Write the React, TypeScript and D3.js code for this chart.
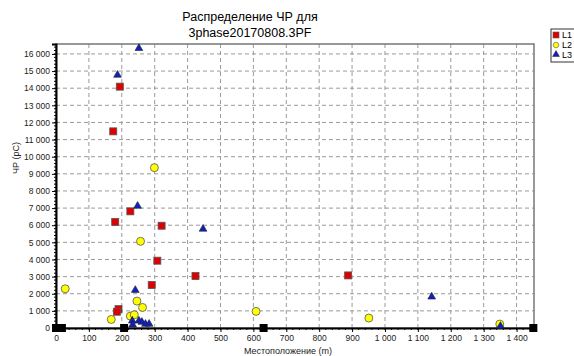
import React, { useEffect, useRef } from "react";
import * as d3 from "d3";

// L1 (red squares): location (m), PD (pC)
const l1X = [194, 174, 226, 180, 321, 308, 424, 291, 190, 185, 888];
const l1Y = [14090, 11480, 6810, 6190, 5970, 3930, 3030, 2510, 1100, 950, 3070];
// L2 (yellow circles)
const l2X = [299, 257, 246, 263, 608, 168, 226, 238, 28, 951, 1349];
const l2Y = [9360, 5060, 1570, 1200, 970, 500, 695, 770, 2290, 580, 230];
// L3 (blue triangles)
const l3X = [252, 187, 248, 447, 241, 232, 233, 252, 261, 272, 283, 1142, 1351];
const l3Y = [16330, 14770, 7120, 5780, 2210, 420, 190, 420, 345, 230, 230, 1820, 110];
// black markers on the cable axis
const jointX = [0, 18, 207, 631, 1451];

const seriesNames = ["L1", "L2", "L3"];
const xTicks = [0, 100, 200, 300, 400, 500, 600, 700, 800, 900, 1000, 1100, 1200, 1300, 1400];
const yTicks = d3.range(0, 16001, 1000);

export default function App() {
  const ref = useRef<SVGSVGElement>(null);

  useEffect(() => {
    const width = 574;
    const height = 356;
    const margin = { top: 44, right: 40, bottom: 28, left: 56 };
    const w = width - margin.left - margin.right;
    const h = height - margin.top - margin.bottom;

    const svg = d3.select(ref.current);
    svg.selectAll("*").remove();

    const loc = d3.formatLocale({ decimal: ",", thousands: " ", grouping: [3], currency: ["", ""] });
    const fmt = loc.format(",d");
    const font = "Liberation Sans, Arial, sans-serif";

    const x = d3.scaleLinear().domain([0, 1453]).range([0, w]);
    const y = d3.scaleLinear().domain([0, 16580]).range([h, 0]);

    const g = svg.append("g").attr("transform", `translate(${margin.left},${margin.top})`);

    // grid
    g.append("g")
      .selectAll("line")
      .data(yTicks.slice(1))
      .enter()
      .append("line")
      .attr("x1", 0)
      .attr("x2", w)
      .attr("y1", (d) => y(d))
      .attr("y2", (d) => y(d))
      .attr("stroke", "#9a9a9a")
      .attr("stroke-dasharray", "4,3");
    g.append("g")
      .selectAll("line")
      .data(xTicks.slice(1))
      .enter()
      .append("line")
      .attr("x1", (d) => x(d))
      .attr("x2", (d) => x(d))
      .attr("y1", 0)
      .attr("y2", h)
      .attr("stroke", "#9a9a9a")
      .attr("stroke-dasharray", "4,3");

    // frame
    g.append("rect")
      .attr("width", w)
      .attr("height", h)
      .attr("fill", "none")
      .attr("stroke", "#777")
      .attr("stroke-width", 1.5);

    // minor ticks
    g.append("g")
      .selectAll("line")
      .data(d3.range(0, 16580, 200))
      .enter()
      .append("line")
      .attr("x1", -2)
      .attr("x2", 0)
      .attr("y1", (d) => y(d))
      .attr("y2", (d) => y(d))
      .attr("stroke", "#000");
    g.append("g")
      .selectAll("line")
      .data(d3.range(0, 1453, 20))
      .enter()
      .append("line")
      .attr("x1", (d) => x(d))
      .attr("x2", (d) => x(d))
      .attr("y1", h)
      .attr("y2", h + 2)
      .attr("stroke", "#000");

    const yAxis = g
      .append("g")
      .call(d3.axisLeft(y).tickValues(yTicks).tickFormat((d) => fmt(+d)).tickSize(4).tickPadding(2));
    yAxis.select(".domain").attr("stroke-width", 2);
    yAxis.selectAll("text").attr("font-size", 8.5).attr("font-family", font).attr("fill", "#222");

    const xAxis = g
      .append("g")
      .attr("transform", `translate(0,${h})`)
      .call(d3.axisBottom(x).tickValues(xTicks).tickFormat((d) => fmt(+d)).tickSize(4).tickPadding(3));
    xAxis.select(".domain").attr("stroke-width", 2);
    xAxis.selectAll("text").attr("font-size", 8.5).attr("font-family", font).attr("fill", "#222");

    // joints
    g.append("g")
      .selectAll("rect")
      .data(jointX)
      .enter()
      .append("rect")
      .attr("x", (d) => x(d) - 4)
      .attr("y", y(0) - 4)
      .attr("width", 8)
      .attr("height", 8)
      .attr("fill", "#000");

    const l1 = l1X.map((v, i) => [v, l1Y[i]]);
    const l2 = l2X.map((v, i) => [v, l2Y[i]]);
    const l3 = l3X.map((v, i) => [v, l3Y[i]]);

    g.append("g")
      .selectAll("rect")
      .data(l1)
      .enter()
      .append("rect")
      .attr("x", (d) => x(d[0]) - 3.5)
      .attr("y", (d) => y(d[1]) - 3.5)
      .attr("width", 7)
      .attr("height", 7)
      .attr("fill", "#e00000")
      .attr("stroke", "#555")
      .attr("stroke-width", 0.8);

    g.append("g")
      .selectAll("circle")
      .data(l2)
      .enter()
      .append("circle")
      .attr("cx", (d) => x(d[0]))
      .attr("cy", (d) => y(d[1]))
      .attr("r", 4)
      .attr("fill", "#ffff00")
      .attr("stroke", "#555")
      .attr("stroke-width", 0.8);

    const tri = d3.symbol().type(d3.symbolTriangle).size(26);
    g.append("g")
      .selectAll("path")
      .data(l3)
      .enter()
      .append("path")
      .attr("d", tri)
      .attr("transform", (d) => `translate(${x(d[0])},${y(d[1])})`)
      .attr("fill", "#1020c0")
      .attr("stroke", "#222")
      .attr("stroke-width", 0.6);

    // titles
    svg.append("text").attr("x", 250).attr("y", 21).attr("text-anchor", "middle")
      .attr("font-size", 12.5).attr("font-family", font).text("Распределение ЧР для");
    svg.append("text").attr("x", 250).attr("y", 37).attr("text-anchor", "middle")
      .attr("font-size", 12.5).attr("font-family", font).text("3phase20170808.3PF");
    svg.append("text").attr("x", 288).attr("y", 354).attr("text-anchor", "middle")
      .attr("font-size", 9).attr("font-family", font).attr("fill", "#222").text("Местоположение (m)");
    svg.append("text").attr("transform", "translate(19,158) rotate(-90)").attr("text-anchor", "middle")
      .attr("font-size", 9).attr("font-family", font).attr("fill", "#222").text("ЧР (pC)");

    // legend
    const lg = svg.append("g").attr("transform", "translate(551,29)");
    lg.append("rect").attr("width", 40).attr("height", 33).attr("fill", "#fff").attr("stroke", "#333");
    lg.append("rect").attr("x", 2).attr("y", 3).attr("width", 6).attr("height", 6).attr("fill", "#e00000").attr("stroke", "#555").attr("stroke-width", 0.6);
    lg.append("circle").attr("cx", 5).attr("cy", 16).attr("r", 2.8).attr("fill", "#ffff00").attr("stroke", "#555").attr("stroke-width", 0.6);
    lg.append("path").attr("d", d3.symbol().type(d3.symbolTriangle).size(20)).attr("transform", "translate(5,25.5)").attr("fill", "#1020c0").attr("stroke", "#222").attr("stroke-width", 0.5);
    lg.selectAll("text.lbl")
      .data(seriesNames)
      .enter()
      .append("text")
      .attr("x", 11)
      .attr("y", (d, i) => 9 + i * 10)
      .attr("font-size", 9)
      .attr("font-family", font)
      .text((d) => d);
  }, []);

  return (
    <svg
      ref={ref}
      width={574}
      height={356}
      style={{ position: "absolute", left: 0, top: 0, background: "#fff" }}
    />
  );
}
